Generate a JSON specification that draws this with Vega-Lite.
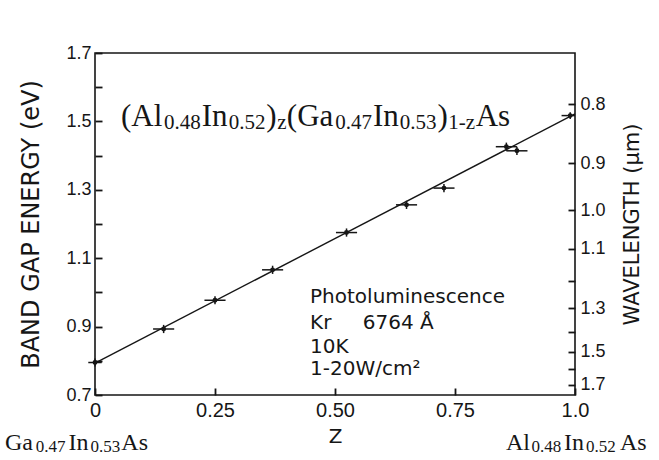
{
  "$schema": "https://vega.github.io/schema/vega-lite/v6.json",
  "width": 480,
  "height": 342,
  "autosize": {"type": "none"},
  "padding": {"left": 95, "top": 53, "right": 84, "bottom": 65},
  "background": "white",
  "config": {
    "view": {"stroke": "#161616", "strokeWidth": 1.6},
    "axis": {
      "domain": false,
      "grid": false,
      "ticks": true,
      "offset": -7,
      "tickSize": 7,
      "zindex": 1,
      "labelFlush": false,
      "labelOverlap": false,
      "labelFont": "Liberation Sans",
      "labelFontSize": 18,
      "labelColor": "#161616",
      "tickColor": "#161616",
      "tickWidth": 1.8,
      "titleFont": "DejaVu Sans",
      "titleFontWeight": "normal",
      "titleColor": "#161616"
    }
  },
  "datasets": {
    "fit": [
      {"z": 0, "e": 0.793},
      {"z": 1, "e": 1.522}
    ],
    "pl": [
      {"z": 0.0, "e": 0.795, "zlo": -0.014, "zhi": 0.014, "elo": 0.783, "ehi": 0.807},
      {"z": 0.143, "e": 0.893, "zlo": 0.121, "zhi": 0.165, "elo": 0.881, "ehi": 0.905},
      {"z": 0.25, "e": 0.977, "zlo": 0.228, "zhi": 0.272, "elo": 0.965, "ehi": 0.989},
      {"z": 0.37, "e": 1.066, "zlo": 0.348, "zhi": 0.392, "elo": 1.054, "ehi": 1.078},
      {"z": 0.524, "e": 1.175, "zlo": 0.502, "zhi": 0.546, "elo": 1.163, "ehi": 1.187},
      {"z": 0.649, "e": 1.256, "zlo": 0.627, "zhi": 0.671, "elo": 1.244, "ehi": 1.268},
      {"z": 0.727, "e": 1.305, "zlo": 0.705, "zhi": 0.749, "elo": 1.293, "ehi": 1.317},
      {"z": 0.857, "e": 1.426, "zlo": 0.835, "zhi": 0.879, "elo": 1.414, "ehi": 1.438},
      {"z": 0.879, "e": 1.414, "zlo": 0.857, "zhi": 0.901, "elo": 1.402, "ehi": 1.426},
      {"z": 0.99, "e": 1.517, "zlo": 0.972, "zhi": 1.0, "elo": 1.507, "ehi": 1.527}
    ],
    "formula": [
      {"t": "(Al", "z": 0.0542, "e": 1.4865, "role": "main"},
      {"t": "0.48", "z": 0.144, "e": 1.4865, "role": "sub"},
      {"t": "In", "z": 0.2225, "e": 1.4865, "role": "main"},
      {"t": "0.52", "z": 0.2785, "e": 1.4865, "role": "sub"},
      {"t": ")", "z": 0.357, "e": 1.4865, "role": "main"},
      {"t": "z", "z": 0.3796, "e": 1.4865, "role": "sub"},
      {"t": "(Ga", "z": 0.3996, "e": 1.4865, "role": "main"},
      {"t": "0.47", "z": 0.5004, "e": 1.4865, "role": "sub"},
      {"t": "In", "z": 0.579, "e": 1.4865, "role": "main"},
      {"t": "0.53", "z": 0.635, "e": 1.4865, "role": "sub"},
      {"t": ")", "z": 0.7135, "e": 1.4865, "role": "main"},
      {"t": "1-z", "z": 0.736, "e": 1.4865, "role": "sub"},
      {"t": "As", "z": 0.793, "e": 1.4865, "role": "main"}
    ],
    "endmembers": [
      {"t": "Ga", "z": -0.1875, "e": 0.5392, "role": "main"},
      {"t": "0.47", "z": -0.1233, "e": 0.5392, "role": "sub"},
      {"t": "In", "z": -0.0552, "e": 0.5392, "role": "main"},
      {"t": "0.53", "z": -0.0094, "e": 0.5392, "role": "sub"},
      {"t": "As", "z": 0.0548, "e": 0.5392, "role": "main"},
      {"t": "Al", "z": 0.85625, "e": 0.5392, "role": "main"},
      {"t": "0.48", "z": 0.9092, "e": 0.5392, "role": "sub"},
      {"t": "In", "z": 0.9773, "e": 0.5392, "role": "main"},
      {"t": "0.52", "z": 1.0231, "e": 0.5392, "role": "sub"},
      {"t": "As", "z": 1.0935, "e": 0.5392, "role": "main"}
    ],
    "notes": [
      {"t": "Photoluminescence", "z": 0.448, "e": 0.9865},
      {"t": "Kr", "z": 0.448, "e": 0.9105},
      {"t": "6764 Å", "z": 0.558, "e": 0.9105},
      {"t": "10K", "z": 0.448, "e": 0.8404},
      {"t": "1-20W/cm²", "z": 0.448, "e": 0.776}
    ]
  },
  "layer": [
    {
      "data": {"name": "fit"},
      "mark": {"type": "line", "stroke": "#161616", "strokeWidth": 1.4},
      "encoding": {
        "x": {
          "field": "z", "type": "quantitative",
          "scale": {"domain": [0, 1], "nice": false, "zero": false},
          "axis": {
            "orient": "bottom",
            "title": "Z",
            "values": [0, 0.25, 0.5, 0.75, 1],
            "labelExpr": "datum.value == 0 ? '0' : datum.value == 1 ? '1.0' : format(datum.value, '.2f')",
            "labelFontSize": 20,
            "labelPadding": 5,
            "titleFontSize": 20,
            "titlePadding": 6
          }
        },
        "y": {
          "field": "e", "type": "quantitative",
          "scale": {"domain": [0.7, 1.7], "nice": false, "zero": false},
          "axis": {
            "title": "BAND GAP ENERGY (eV)",
            "values": [0.7, 0.8, 0.9, 1.0, 1.1, 1.2, 1.3, 1.4, 1.5, 1.6, 1.7],
            "labelExpr": "round(datum.value * 10) % 2 == 1 ? format(datum.value, '.1f') : ''",
            "labelPadding": 4,
            "titleFontSize": 24,
            "titlePadding": 22
          }
        }
      }
    },
    {
      "data": {"name": "fit"},
      "mark": {"type": "line", "strokeOpacity": 0},
      "encoding": {
        "x": {"field": "z", "type": "quantitative"},
        "y": {
          "field": "e", "type": "quantitative",
          "scale": {"domain": [0.7, 1.7], "nice": false, "zero": false},
          "axis": {
            "orient": "right",
            "title": "WAVELENGTH (µm)",
            "values": [1.54975, 1.37756, 1.2398, 1.12709, 1.03317, 0.95369, 0.88557, 0.82653, 0.77488, 0.72929],
            "labelExpr": "indexof(['1.2', '1.4', '1.6'], format(1.2398 / datum.value, '.1f')) >= 0 ? '' : format(1.2398 / datum.value, '.1f')",
            "labelPadding": 5,
            "titleFontSize": 21,
            "titleAngle": -90,
            "titlePadding": 37
          }
        }
      }
    },
    {
      "data": {"name": "pl"},
      "mark": {"type": "rule", "stroke": "#161616", "strokeWidth": 1.5},
      "encoding": {
        "x": {"field": "zlo", "type": "quantitative"},
        "x2": {"field": "zhi"},
        "y": {"field": "e", "type": "quantitative", "axis": null}
      }
    },
    {
      "data": {"name": "pl"},
      "mark": {"type": "rule", "stroke": "#161616", "strokeWidth": 1.5},
      "encoding": {
        "x": {"field": "z", "type": "quantitative"},
        "y": {"field": "elo", "type": "quantitative", "axis": null},
        "y2": {"field": "ehi"}
      }
    },
    {
      "data": {"name": "pl"},
      "mark": {"type": "point", "filled": true, "size": 24, "color": "#161616", "opacity": 1},
      "encoding": {
        "x": {"field": "z", "type": "quantitative"},
        "y": {"field": "e", "type": "quantitative", "axis": null}
      }
    },
    {
      "data": {"name": "formula"},
      "transform": [{"filter": "datum.role == 'main'"}],
      "mark": {"type": "text", "font": "Liberation Serif", "fontSize": 31, "align": "left", "baseline": "alphabetic", "color": "#161616"},
      "encoding": {
        "x": {"field": "z", "type": "quantitative"},
        "y": {"field": "e", "type": "quantitative", "axis": null},
        "text": {"field": "t"}
      }
    },
    {
      "data": {"name": "formula"},
      "transform": [{"filter": "datum.role == 'sub'"}],
      "mark": {"type": "text", "font": "Liberation Serif", "fontSize": 21, "align": "left", "baseline": "alphabetic", "dy": 3, "color": "#161616"},
      "encoding": {
        "x": {"field": "z", "type": "quantitative"},
        "y": {"field": "e", "type": "quantitative", "axis": null},
        "text": {"field": "t"}
      }
    },
    {
      "data": {"name": "endmembers"},
      "transform": [{"filter": "datum.role == 'main'"}],
      "mark": {"type": "text", "font": "Liberation Serif", "fontSize": 24, "align": "left", "baseline": "alphabetic", "color": "#161616"},
      "encoding": {
        "x": {"field": "z", "type": "quantitative"},
        "y": {"field": "e", "type": "quantitative", "axis": null},
        "text": {"field": "t"}
      }
    },
    {
      "data": {"name": "endmembers"},
      "transform": [{"filter": "datum.role == 'sub'"}],
      "mark": {"type": "text", "font": "Liberation Serif", "fontSize": 17, "align": "left", "baseline": "alphabetic", "dy": 2, "color": "#161616"},
      "encoding": {
        "x": {"field": "z", "type": "quantitative"},
        "y": {"field": "e", "type": "quantitative", "axis": null},
        "text": {"field": "t"}
      }
    },
    {
      "data": {"name": "notes"},
      "mark": {"type": "text", "font": "DejaVu Sans", "fontSize": 20, "align": "left", "baseline": "middle", "color": "#161616"},
      "encoding": {
        "x": {"field": "z", "type": "quantitative"},
        "y": {"field": "e", "type": "quantitative", "axis": null},
        "text": {"field": "t"}
      }
    }
  ],
  "resolve": {"axis": {"y": "independent"}}
}
